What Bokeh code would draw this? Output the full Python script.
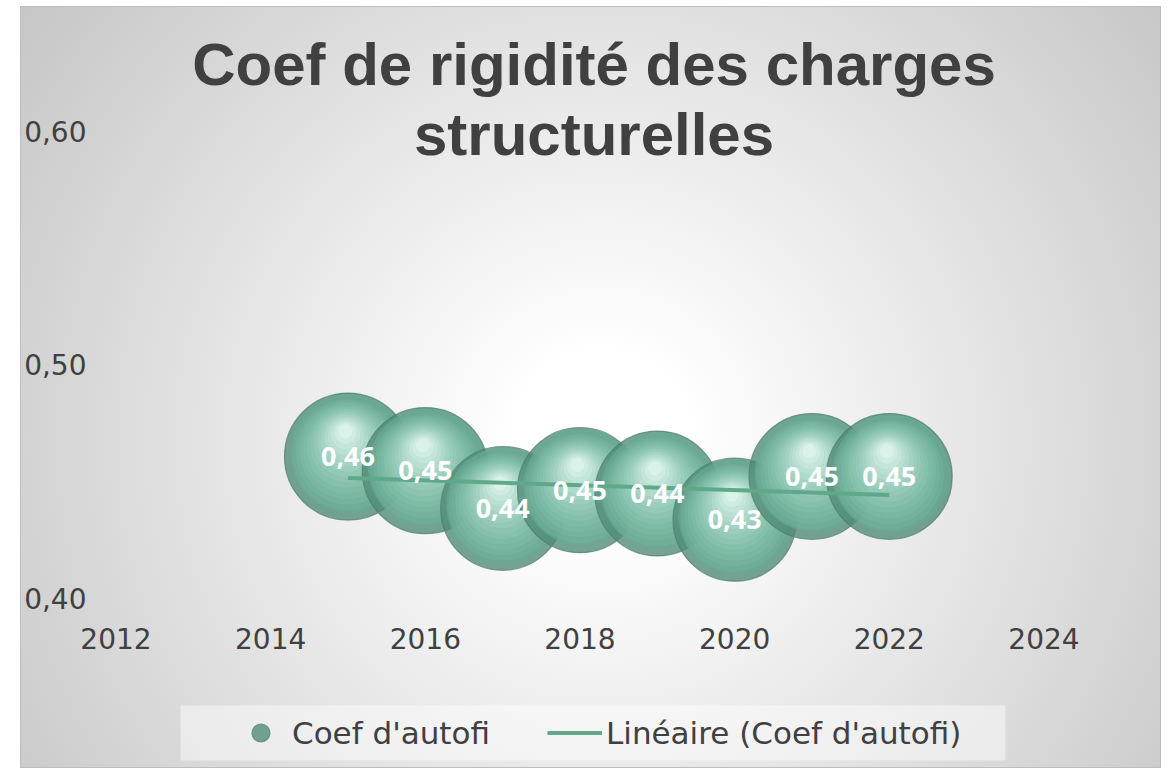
import numpy as np
from bokeh.plotting import figure
from bokeh.models import (ColumnDataSource, FixedTicker, Legend, LegendItem,
                          Label, Range1d, Spacer, BoxAnnotation)
from bokeh.layouts import row, column
from bokeh.core.properties import value
from bokeh.embed import file_html
from bokeh.resources import INLINE

# ---------------- data ----------------
years = [2015, 2016, 2017, 2018, 2019, 2020, 2021, 2022]
coef = [0.4607, 0.4547, 0.4385, 0.4463, 0.4449, 0.4337, 0.4522, 0.4522]
x_ticks = [2012, 2014, 2016, 2018, 2020, 2022, 2024]
y_ticks = [0.40, 0.50, 0.60]
y_tick_labels = ["0,40", "0,50", "0,60"]
title_lines = ["Coef de rigidité des charges", "structurelles"]
series_name = "Coef d'autofi"
trend_name = "Linéaire (Coef d'autofi)"

# ---------------- layout constants ----------------
W, H = 1141, 762          # the whole figure is the plot frame
X0, X1 = 2010.765, 2025.52
Y0, Y1 = 0.32699, 0.65368
XAX_AT = 0.39258           # where the x axis sits (data units)
YAX_AT = 2011.735          # where the y axis sits (data units)
xpp = (X1 - X0) / W
ypp = (Y1 - Y0) / H

TXT = "#404040"


def hx(c):
    c = c.lstrip("#")
    return [int(c[i:i + 2], 16) for i in (0, 2, 4)]


def mix(c1, c2, t):
    a, b = hx(c1), hx(c2)
    return "#%02x%02x%02x" % tuple(int(round(a[i] + (b[i] - a[i]) * t)) for i in range(3))


# sphere-like bubbles built from stacked circles
D_MAX = 127.0
vmax = max(coef)
N = 14
rows = dict(x=[], y=[], size=[], fc=[], fa=[], lc=[], la=[])


def add(x, y, s, fc, fa, lc, la):
    rows["x"].append(x)
    rows["y"].append(y)
    rows["size"].append(s)
    rows["fc"].append(fc)
    rows["fa"].append(fa)
    rows["lc"].append(lc)
    rows["la"].append(la)


for yr, v in zip(years, coef):
    R = 0.5 * D_MAX * np.sqrt(v / vmax)
    add(yr, v, 2 * R, "#4f8b76", 0.78, "#4a7d6b", 0.7)
    add(yr + 0.02 * R * xpp, v + 0.05 * R * ypp, 2 * R * 0.93, "#68ab94", 0.72, "#ffffff", 0.0)
    for k in range(1, N + 1):
        t = k / N
        r = 0.93 - 0.82 * t
        dy = 0.40 * t * R
        dx = -0.04 * t * R
        add(yr + dx * xpp, v + dy * ypp, 2 * R * r,
            mix("#74b79f", "#f0fffa", t ** 1.35), 0.34, "#ffffff", 0.0)
src = ColumnDataSource(rows)

p = figure(width=W, height=H, output_backend="svg", toolbar_location=None,
           x_range=Range1d(X0, X1), y_range=Range1d(Y0, Y1), title=None,
           min_border_left=0, min_border_right=0, min_border_top=0,
           min_border_bottom=0)
p.background_fill_color = None
p.border_fill_color = None
p.outline_line_color = None
p.grid.visible = False
p.styles = {
    "background-image": "radial-gradient(circle farthest-corner at 51% 57%, #ffffff 12%, #c6c6c6 100%)",
    "box-shadow": "inset 0 0 0 1px #bdbdbd",
}

bubbles = p.scatter(x="x", y="y", size="size", marker="circle", fill_color="fc",
                    fill_alpha="fa", line_color="lc", line_alpha="la",
                    line_width=1.2, source=src)

# linear trend
slope, intercept = np.polyfit(years, coef, 1)
tx = [years[0], years[-1]]
ty = [slope * t + intercept for t in tx]
trend = p.line(tx, ty, line_color="#5fa98a", line_width=4)

labels = [f"{v:.2f}".replace(".", ",") for v in coef]
p.text(x=years, y=coef, text=labels, text_color="white",
       text_font=value("Open Sans"), text_font_style="bold",
       text_font_size="27px", text_align="center", text_baseline="middle")

# legend panel background
p.add_layout(BoxAnnotation(left=160, right=985, bottom=8, top=63,
                           left_units="screen", right_units="screen",
                           bottom_units="screen", top_units="screen",
                           fill_color="white", fill_alpha=0.45,
                           line_color=None, level="annotation"))

legend = Legend(items=[LegendItem(label=series_name, renderers=[bubbles], index=0),
                       LegendItem(label=trend_name, renderers=[trend])],
                location=(213, 13), orientation="horizontal",
                spacing=19, padding=0, margin=0, glyph_width=55, glyph_height=45,
                label_height=45, label_width=236, label_standoff=4,
                label_text_font="DejaVu Sans", label_text_font_size="31px",
                label_text_color=TXT, background_fill_alpha=0.0,
                border_line_color=None)
p.add_layout(legend, "center")

# axes drawn inside the (full-size) frame
for ax in (p.xaxis[0], p.yaxis[0]):
    ax.axis_line_color = None
    ax.major_tick_line_color = None
    ax.minor_tick_line_color = None
    ax.major_label_text_font = "DejaVu Sans"
    ax.major_label_text_font_size = "28px"
    ax.major_label_text_color = TXT
p.xaxis.ticker = FixedTicker(ticks=x_ticks)
p.yaxis.ticker = FixedTicker(ticks=y_ticks)
p.yaxis.major_label_overrides = dict(zip(y_ticks, y_tick_labels))
p.xaxis.fixed_location = XAX_AT
p.yaxis.fixed_location = YAX_AT
p.xaxis.major_label_standoff = 6
p.yaxis.major_label_standoff = 3

# title (overlapping the plot area as in the original)
for txt, yy in zip(title_lines, (704, 634)):
    p.add_layout(Label(x=W / 2 + 3, y=yy, x_units="screen", y_units="screen",
                       text=txt, text_align="center", text_baseline="middle",
                       text_font="Liberation Sans", text_font_style="bold",
                       text_font_size="60px", text_color=TXT))

layout = column(Spacer(width=10, height=6), row(Spacer(width=20, height=H), p))
open("out.html", "w").write(file_html(layout, INLINE))
